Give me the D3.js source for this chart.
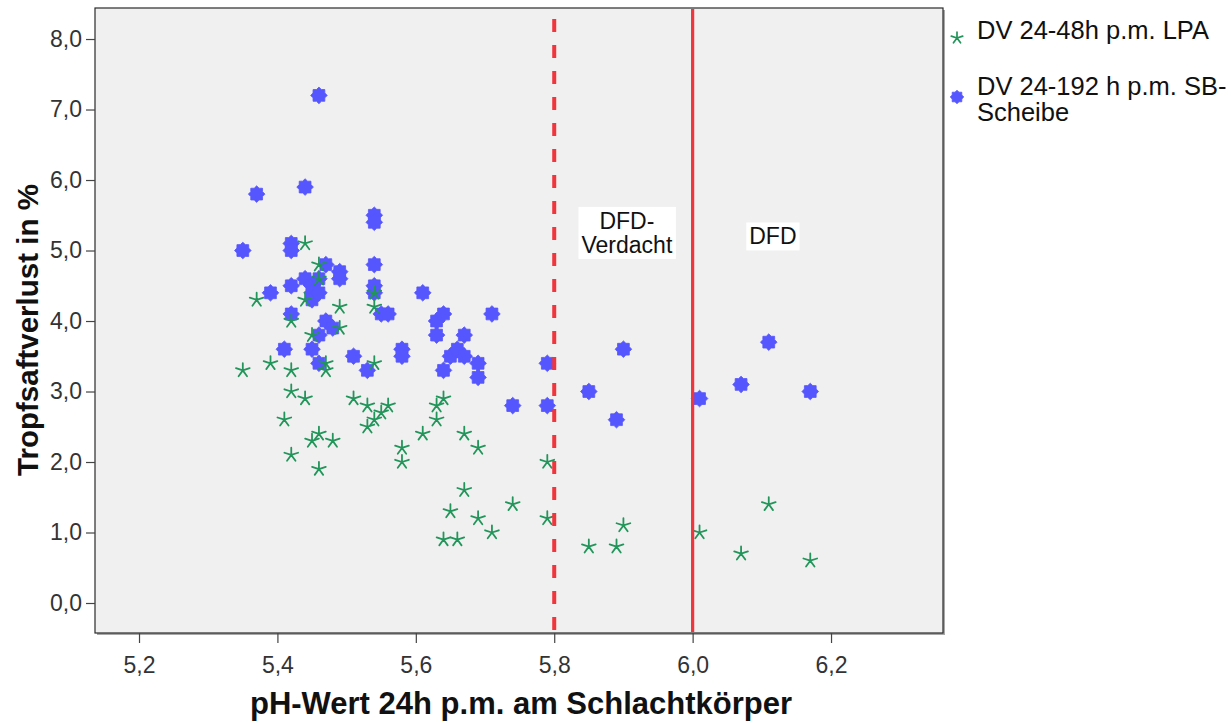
<!DOCTYPE html>
<html>
<head>
<meta charset="utf-8">
<script src="https://cdn.jsdelivr.net/npm/d3@7/dist/d3.min.js"></script>
<style>
  html, body { margin: 0; padding: 0; background: #ffffff; }
  svg { display: block; font-family: "Liberation Sans", Arial, sans-serif; }
</style>
</head>
<body>
<svg id="chart" width="1231" height="724"></svg>
<script>
// Drip loss (%) vs. carcass pH 24h p.m.
// Series 1: DV 24-48h p.m. LPA
const lpaPH = [5.35, 5.37, 5.39, 5.41, 5.42, 5.42, 5.42, 5.42, 5.44, 5.44, 5.44, 5.46, 5.46,
  5.45, 5.45, 5.46, 5.46, 5.47, 5.47, 5.48, 5.49, 5.49, 5.51, 5.53, 5.53, 5.54, 5.54, 5.54,
  5.54, 5.55, 5.56, 5.58, 5.58, 5.61, 5.63, 5.63, 5.64, 5.64, 5.65, 5.66, 5.67, 5.67, 5.69,
  5.69, 5.71, 5.74, 5.79, 5.79, 5.85, 5.89, 5.90, 6.01, 6.07, 6.11, 6.17];
const lpaLoss = [3.3, 4.3, 3.4, 2.6, 4.0, 3.3, 3.0, 2.1, 5.1, 2.9, 4.3, 4.6, 4.8,
  3.8, 2.3, 2.4, 1.9, 3.4, 3.3, 2.3, 4.2, 3.9, 2.9, 2.8, 2.5, 4.4, 4.2, 3.4,
  2.6, 2.7, 2.8, 2.2, 2.0, 2.4, 2.6, 2.8, 2.9, 0.9, 1.3, 0.9, 2.4, 1.6, 2.2,
  1.2, 1.0, 1.4, 2.0, 1.2, 0.8, 0.8, 1.1, 1.0, 0.7, 1.4, 0.6];

// Series 2: DV 24-192 h p.m. SB-Scheibe
const sbPH = [5.35, 5.37, 5.39, 5.41, 5.42, 5.42, 5.42, 5.42, 5.44, 5.44, 5.45, 5.45, 5.45,
  5.45, 5.46, 5.46, 5.46, 5.46, 5.46, 5.47, 5.47, 5.48, 5.49, 5.49, 5.51, 5.53, 5.54, 5.54,
  5.54, 5.54, 5.54, 5.55, 5.56, 5.58, 5.58, 5.61, 5.63, 5.63, 5.64, 5.64, 5.65, 5.66, 5.67,
  5.67, 5.69, 5.69, 5.71, 5.74, 5.79, 5.79, 5.85, 5.89, 5.90, 6.01, 6.07, 6.11, 6.17];
const sbLoss = [5.0, 5.8, 4.4, 3.6, 5.1, 5.0, 4.5, 4.1, 5.9, 4.6, 4.5, 4.4, 4.3,
  3.6, 7.2, 4.6, 4.4, 3.8, 3.4, 4.8, 4.0, 3.9, 4.7, 4.6, 3.5, 3.3, 5.5, 5.4,
  4.8, 4.5, 4.4, 4.1, 4.1, 3.6, 3.5, 4.4, 4.0, 3.8, 4.1, 3.3, 3.5, 3.6, 3.8,
  3.5, 3.4, 3.2, 4.1, 2.8, 3.4, 2.8, 3.0, 2.6, 3.6, 2.9, 3.1, 3.7, 3.0];

const seriesNames = ["DV 24-48h p.m. LPA", ["DV 24-192 h p.m. SB-", "Scheibe"]];
const xTicks = [5.2, 5.4, 5.6, 5.8, 6.0, 6.2];
const yTicks = [0, 1, 2, 3, 4, 5, 6, 7, 8];
const refLines = [5.8, 6.0];            // DFD-Verdacht threshold, DFD threshold
const refLabels = [["DFD-", "Verdacht"], ["DFD"]];
const refLabelPos = [[5.905, 5.25], [6.116, 5.2]];
const xTitle = "pH-Wert 24h p.m. am Schlachtkörper";
const yTitle = "Tropfsaftverlust in %";

const fmt = v => d3.format(".1f")(v).replace(".", ",");

const svg = d3.select("#chart");
const plot = { left: 95, top: 8, right: 943, bottom: 633 };

const x = d3.scaleLinear().domain([5.1364, 6.3618]).range([plot.left, plot.right]);
const y = d3.scaleLinear().domain([-0.4255, 8.44]).range([plot.bottom, plot.top]);

// Plot background with drop shadow edge
svg.append("rect")
  .attr("x", plot.left + 2).attr("y", plot.top + 2)
  .attr("width", plot.right - plot.left).attr("height", plot.bottom - plot.top)
  .attr("fill", "#a8a8a8");
svg.append("rect")
  .attr("x", plot.left).attr("y", plot.top)
  .attr("width", plot.right - plot.left).attr("height", plot.bottom - plot.top)
  .attr("fill", "#f0f0f0").attr("stroke", "#2a2a2a").attr("stroke-width", 1.2);

// Axes
const xAxis = svg.append("g")
  .attr("transform", `translate(0,${plot.bottom})`)
  .call(d3.axisBottom(x).tickValues(xTicks).tickFormat(fmt).tickSize(10).tickPadding(14));
const yAxis = svg.append("g")
  .attr("transform", `translate(${plot.left},0)`)
  .call(d3.axisLeft(y).tickValues(yTicks).tickFormat(fmt).tickSize(9).tickPadding(4));
[xAxis, yAxis].forEach(g => {
  g.select(".domain").remove();
  g.selectAll(".tick line").attr("stroke", "#444").attr("stroke-width", 1.2);
  g.selectAll(".tick text").attr("fill", "#333").attr("font-size", 23)
    .attr("font-family", "'Liberation Sans', Arial, sans-serif");
});
xAxis.selectAll(".tick text").attr("dy", "0.71em");

// Marker generators
function starLines(r) {
  // five-armed asterisk
  let p = "";
  for (let i = 0; i < 5; i++) {
    const a = -Math.PI / 2 + i * 2 * Math.PI / 5;
    p += `M0,0L${(r * Math.cos(a)).toFixed(2)},${(r * Math.sin(a)).toFixed(2)}`;
  }
  return p;
}
function burst(ro, ri, n) {
  // filled n-spiked burst
  const pts = [];
  for (let i = 0; i < 2 * n; i++) {
    const a = -Math.PI / 2 + i * Math.PI / n;
    const r = i % 2 === 0 ? ro : ri;
    pts.push([r * Math.cos(a), r * Math.sin(a)]);
  }
  return "M" + pts.map(p => p[0].toFixed(2) + "," + p[1].toFixed(2)).join("L") + "Z";
}

const blue = "#5656ff";
const green = "#22955a";

// Series 2 (SB-Scheibe)
svg.append("g").selectAll("path")
  .data(d3.range(sbPH.length))
  .join("path")
  .attr("transform", i => `translate(${x(sbPH[i])},${y(sbLoss[i])})`)
  .attr("d", burst(8.3, 6.4, 8))
  .attr("fill", blue).attr("stroke", blue).attr("stroke-width", 0.8)
  .attr("stroke-linejoin", "round");

// Series 1 (LPA)
svg.append("g").selectAll("path")
  .data(d3.range(lpaPH.length))
  .join("path")
  .attr("transform", i => `translate(${x(lpaPH[i])},${y(lpaLoss[i])})`)
  .attr("d", starLines(7.2))
  .attr("fill", "none").attr("stroke", green).attr("stroke-width", 1.8)
  .attr("stroke-linecap", "round");

// Reference lines
svg.append("g").selectAll("line")
  .data(refLines)
  .join("line")
  .attr("x1", d => x(d)).attr("x2", d => x(d))
  .attr("y1", plot.top + 1).attr("y2", plot.bottom - 1)
  .attr("stroke", "#f0353d")
  .attr("stroke-width", (d, i) => i === 0 ? 4 : 3.2)
  .attr("stroke-dasharray", (d, i) => i === 0 ? "13,13" : null)
  .attr("stroke-dashoffset", (d, i) => i === 0 ? -10 : 0);

// Reference labels in white boxes
refLabels.forEach((lines, k) => {
  const g = svg.append("g")
    .attr("transform", `translate(${x(refLabelPos[k][0])},${y(refLabelPos[k][1])})`);
  const lh = 24;
  const t = g.append("text")
    .attr("text-anchor", "middle")
    .attr("font-size", 23).attr("fill", "#111");
  lines.forEach((s, j) => {
    t.append("tspan").attr("x", 0)
      .attr("y", (j - (lines.length - 1) / 2) * lh)
      .attr("dy", "0.35em").text(s);
  });
  const bb = t.node().getBBox();
  g.insert("rect", "text")
    .attr("x", bb.x - 3).attr("y", bb.y - 1)
    .attr("width", bb.width + 6).attr("height", bb.height + 2)
    .attr("fill", "#ffffff");
});

// Axis titles
svg.append("text")
  .attr("x", (plot.left + plot.right) / 2 + 2).attr("y", 714)
  .attr("text-anchor", "middle")
  .attr("font-size", 31).attr("font-weight", "bold").attr("fill", "#111")
  .text(xTitle);
svg.append("text")
  .attr("transform", `translate(38,330) rotate(-90)`)
  .attr("text-anchor", "middle")
  .attr("font-size", 29.5).attr("font-weight", "bold").attr("fill", "#111")
  .text(yTitle);

// Legend
const legend = svg.append("g");
legend.append("path")
  .attr("transform", "translate(957,38)")
  .attr("d", starLines(6))
  .attr("fill", "none").attr("stroke", green).attr("stroke-width", 1.7)
  .attr("stroke-linecap", "round");
legend.append("path")
  .attr("transform", "translate(957,97)")
  .attr("d", burst(6.8, 5.2, 8))
  .attr("fill", blue).attr("stroke", blue).attr("stroke-width", 0.8);
legend.append("text")
  .attr("x", 977).attr("y", 39)
  .attr("font-size", 25.5).attr("fill", "#111")
  .text(seriesNames[0]);
const lt = legend.append("text")
  .attr("font-size", 25.5).attr("fill", "#111");
seriesNames[1].forEach((s, j) => {
  lt.append("tspan").attr("x", 977).attr("y", 95 + j * 26).text(s);
});
</script>
</body>
</html>
